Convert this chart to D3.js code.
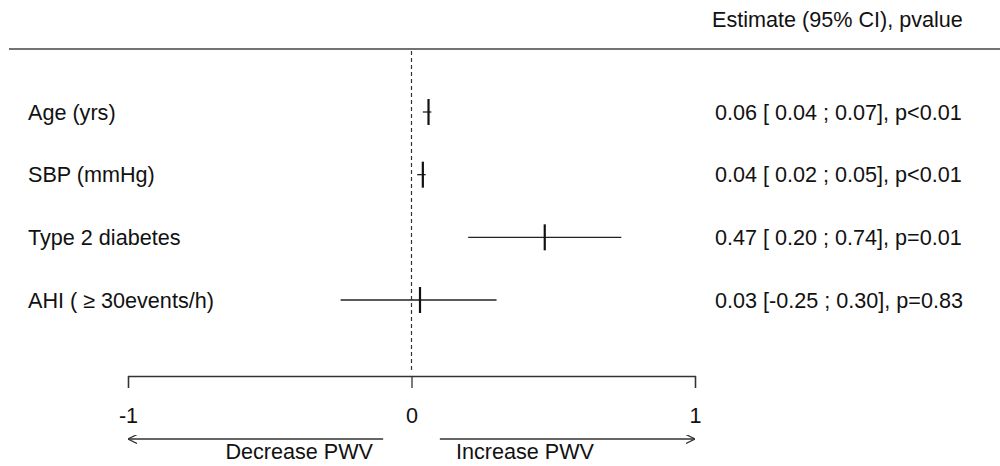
<!DOCTYPE html>
<html lang="en">
  <head>
    <meta charset="utf-8">
    <title>Forest plot</title>
    <script src="https://d3js.org/d3.v7.js"></script>
    <style>
      body { margin: 0; background: white; }
      text { font-family: "Liberation Sans", Arial, sans-serif; font-size: 21.6px; fill: #111; }
    </style>
  </head>

  <body>

  <script>

// data

  const labels = ["Age (yrs)", "SBP (mmHg)", "Type 2 diabetes", "AHI ( \u2265 30events/h)"];
  const estimates = [0.06, 0.04, 0.47, 0.03];
  const lower = [0.04, 0.02, 0.20, -0.25];
  const upper = [0.07, 0.05, 0.74, 0.30];
  const pvalues = ["p<0.01", "p<0.01", "p=0.01", "p=0.83"];
  const ticks = [-1, 0, 1];

  const w = 1000;
  const h = 466;

  const rows = labels.map((d, i) => ({label: d, est: estimates[i], lo: lower[i], hi: upper[i], p: pvalues[i]}));

  const xScale = d3.scaleLinear()
      .domain([-1, 1])
      .range([128, 695]);

  const yScale = d3.scalePoint()
      .domain(labels)
      .range([112, 300]);

  // plain hyphen for minus, like the original
  const loc = d3.formatLocale({decimal: ".", thousands: ",", grouping: [3], currency: ["", ""], minus: "-"});
  const f = loc.format(".2f");
  const fl = v => v < 0 ? f(v) : " " + f(v);

  const svg = d3.select("body")
    .append("svg")
      .attr("width", w)
      .attr("height", h);

  svg.append("defs").append("marker")
      .attr("id", "head")
      .attr("viewBox", "0 0 10 10")
      .attr("refX", 10)
      .attr("refY", 5)
      .attr("markerWidth", 9)
      .attr("markerHeight", 9)
      .attr("markerUnits", "userSpaceOnUse")
      .attr("orient", "auto")
    .append("path")
      .attr("d", "M0,0 L10,5 L0,10")
      .attr("fill", "none")
      .attr("stroke", "#333")
      .attr("stroke-width", 1.4);

// header

  svg.append("text")
      .attr("x", 712)
      .attr("y", 27)
      .text("Estimate (95% CI), pvalue");

  svg.append("line")
      .attr("x1", 9)
      .attr("x2", w)
      .attr("y1", 49)
      .attr("y2", 49)
      .attr("stroke", "#444")
      .attr("stroke-width", 1.6);

// reference line at 0

  svg.append("line")
      .attr("x1", xScale(0))
      .attr("x2", xScale(0))
      .attr("y1", 51)
      .attr("y2", 370)
      .attr("stroke", "#333")
      .attr("stroke-width", 1.2)
      .attr("stroke-dasharray", "4,3");

// rows

  const g = svg.append("g")
    .selectAll("g")
    .data(rows)
    .join("g");

  g.append("text")
      .attr("x", 28)
      .attr("y", d => yScale(d.label))
      .attr("dy", "0.35em")
      .text(d => d.label);

  g.append("text")
      .attr("x", 715)
      .attr("y", d => yScale(d.label))
      .attr("dy", "0.35em")
      .style("white-space", "pre")
      .text(d => `${f(d.est)} [${fl(d.lo)} ; ${f(d.hi)}], ${d.p}`);

  g.append("line")
      .attr("x1", d => xScale(d.lo))
      .attr("x2", d => xScale(d.hi))
      .attr("y1", d => yScale(d.label))
      .attr("y2", d => yScale(d.label))
      .attr("stroke", "#222")
      .attr("stroke-width", 1.3);

  g.append("line")
      .attr("x1", d => xScale(d.est))
      .attr("x2", d => xScale(d.est))
      .attr("y1", d => yScale(d.label) - 13)
      .attr("y2", d => yScale(d.label) + 13)
      .attr("stroke", "#111")
      .attr("stroke-width", 2.2);

// x axis

  const xAxis = d3.axisBottom(xScale)
      .tickValues(ticks)
      .tickSize(12)
      .tickSizeOuter(12)
      .tickPadding(20)
      .tickFormat(loc.format("d"));

  const ax = svg.append("g")
      .attr("transform", "translate(0, 376)")
      .call(xAxis);

  ax.selectAll("path, line").attr("stroke", "#333").attr("stroke-width", 1.3);
  ax.selectAll("text")
      .attr("fill", "#111")
      .style("font-size", "21.6px")
      .style("font-family", "\"Liberation Sans\", Arial, sans-serif");

// direction arrows

  svg.append("line")
      .attr("x1", xScale(-0.1))
      .attr("x2", xScale(-1))
      .attr("y1", 439)
      .attr("y2", 439)
      .attr("stroke", "#333")
      .attr("stroke-width", 1.3)
      .attr("marker-end", "url(#head)");

  svg.append("line")
      .attr("x1", xScale(0.1))
      .attr("x2", xScale(1))
      .attr("y1", 439)
      .attr("y2", 439)
      .attr("stroke", "#333")
      .attr("stroke-width", 1.3)
      .attr("marker-end", "url(#head)");

  svg.append("text")
      .attr("text-anchor", "end")
      .attr("x", 373)
      .attr("y", 459)
      .text("Decrease PWV");

  svg.append("text")
      .attr("x", 456)
      .attr("y", 459)
      .text("Increase PWV");

  </script>

  </body>

</html>
